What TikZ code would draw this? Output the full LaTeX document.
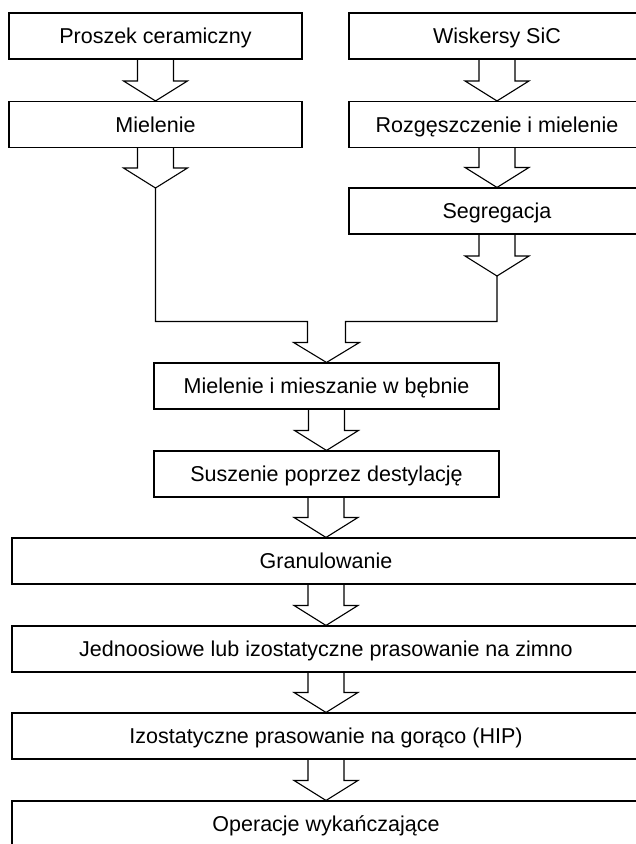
\documentclass[tikz,border=0pt]{standalone}
\usepackage{fontspec}
\setmainfont{Liberation Sans}
\usetikzlibrary{calc}
\newcommand\fatarrow[2]{%
  \draw let \p1=(#1.south), \p2=(#2) in
    (\x2-18pt,\y1) -- (\x2-18pt,\y2+20pt) -- (\x2-32pt,\y2+20pt) -- (\x2,\y2)
    -- (\x2+32pt,\y2+20pt) -- (\x2+18pt,\y2+20pt) -- (\x2+18pt,\y1);}
\begin{document}
\begin{tikzpicture}[x=1pt,y=-1pt,line width=1.1pt,line join=miter,
  box/.style={draw,rectangle,inner sep=0pt,minimum height=46pt,
    text height=15pt,text depth=0pt,font=\fontsize{21.5}{25}\selectfont},
  colL/.style={box,minimum width=293pt},
  colR/.style={box,minimum width=296pt},
  colM/.style={box,minimum width=345pt},
  wide/.style={box,minimum width=628pt}]
\useasboundingbox (0,0) rectangle (636,844);
\clip (0,0) rectangle (636,844);
\node[colL] (A) at (155.5,36) {Proszek ceramiczny};
\node[colL] (B) at (155.5,124.5) {Mielenie};
\node[colR] (C) at (497,36) {Wiskersy SiC};
\node[colR] (D) at (497,124.5) {Rozgęszczenie i mielenie};
\node[colR] (E) at (497,211) {Segregacja};
\node[colM] (F) at (326.5,386) {Mielenie i mieszanie w bębnie};
\node[colM] (G) at (326.5,474) {Suszenie poprzez destylację};
\node[wide] (H) at (326,561) {Granulowanie};
\node[wide] (I) at (326,649) {Jednoosiowe lub izostatyczne prasowanie na zimno};
\node[wide] (J) at (326,736) {Izostatyczne prasowanie na gorąco (HIP)};
\node[wide] (K) at (326,824) {Operacje wykańczające};
\coordinate (bt) at (155.5,188);
\coordinate (et) at (497,276);
\fatarrow{A}{B.north}
\fatarrow{B}{bt}
\fatarrow{C}{D.north}
\fatarrow{D}{E.north}
\fatarrow{E}{et}
\fatarrow{F}{G.north}
\fatarrow{G}{H.north}
\fatarrow{H}{I.north}
\fatarrow{I}{J.north}
\fatarrow{J}{K.north}
\draw let \p1=(F.north) in
  (bt) |- (\x1-19pt,\y1+41pt) -- (\x1-19pt,\y1+20pt) -- (\x1-33pt,\y1+20pt)
  -- (F.north) -- (\x1+33pt,\y1+20pt) -- (\x1+19pt,\y1+20pt)
  -- (\x1+19pt,\y1+41pt) -| (et);
\end{tikzpicture}
\end{document}
